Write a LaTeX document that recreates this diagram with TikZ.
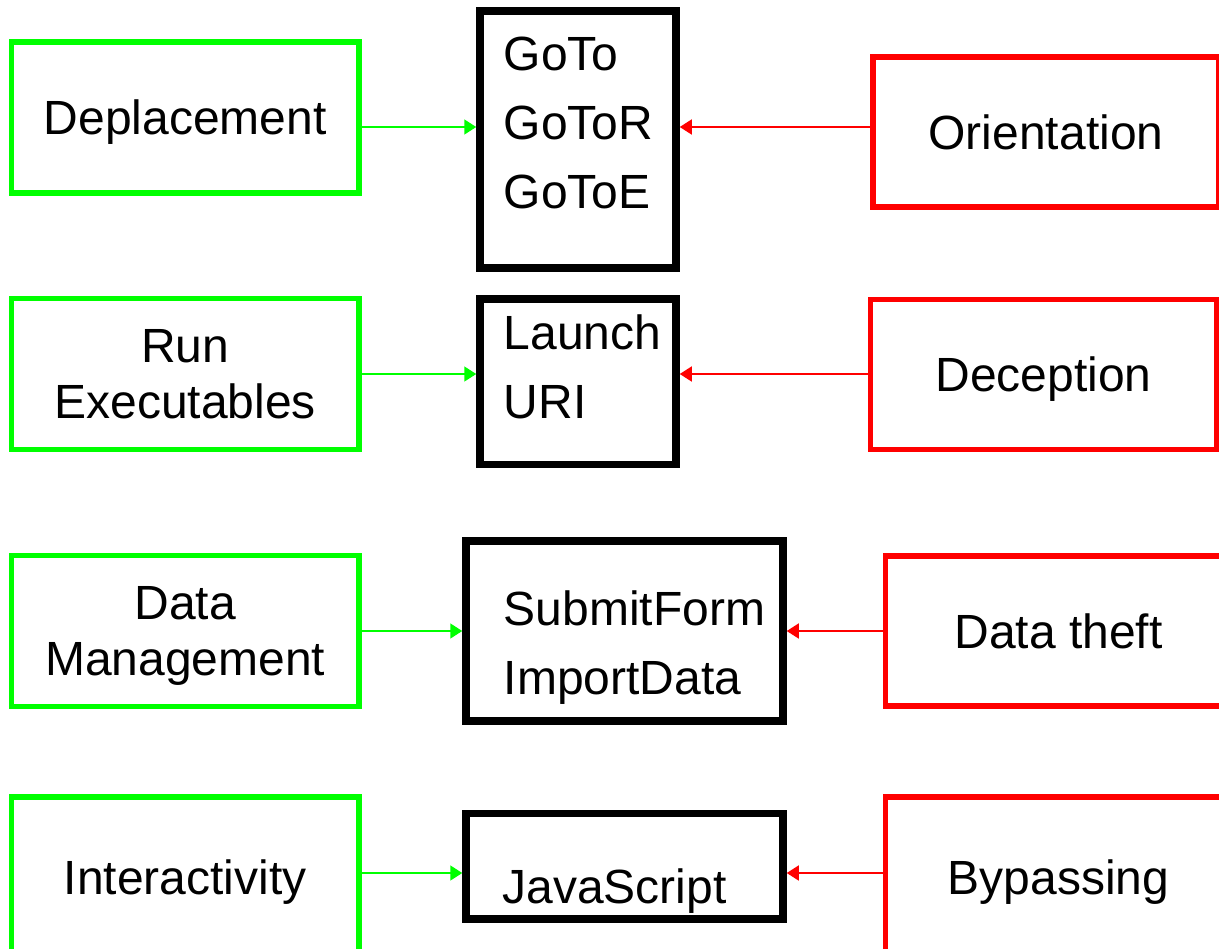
\documentclass[tikz,border=0pt]{standalone}
\usepackage{fontspec}
\setmainfont{Liberation Sans}
\usetikzlibrary{arrows.meta}

\begin{document}
\begin{tikzpicture}
	[
	x=0.5pt, y=-0.5pt, font=\fontsize{24}{28.3}\selectfont,
	>={Triangle[length=6pt, width=7.5pt]},
	%Voreinstellung für Kästen und Pfeile
	greenbox/.style={draw=green, line width=2.75pt, minimum width=173.75pt, minimum height=75.5pt, align=center, text depth=0pt, inner sep=0pt},
	redbox/.style={draw=red, line width=2.75pt, minimum width=173pt, minimum height=75pt, align=center, text depth=0pt, inner sep=0pt},
	actionbox/.style={draw=black, line width=3.75pt, inner sep=0pt},
	actionlist/.style={anchor=north west, align=left, inner sep=0pt, font=\fontsize{24}{34.5}\selectfont},
	garrow/.style={->, green, line width=0.75pt},
	rarrow/.style={->, red, line width=0.75pt}
	]

	%Rahmen
	\useasboundingbox (0,0) rectangle (1219,948);
	\clip (0,0) rectangle (1219,948);

	%Höhen der Pfeile
	\coordinate (z1) at (0,127);
	\coordinate (z2) at (0,374);
	\coordinate (z3) at (0,631);
	\coordinate (z4) at (0,873);

	%Grüne Kästen
	\node[greenbox] (deplacement) at (185.25,117.5) {Deplacement};
	\node[greenbox] (run) at (185.25,374) {Run\\Executables};
	\node[greenbox] (datamgmt) at (185.25,631) {Data\\Management};
	\node[greenbox, minimum height=80pt] (interact) at (185.25,877) {Interactivity};

	%Aktionen
	\node[actionbox, minimum width=98pt, minimum height=128.5pt] (goto) at (578,139.5) {};
	\node[actionlist] (gotolist) at (503.5,37) {GoTo\\GoToR\\GoToE};
	\node[actionbox, minimum width=98pt, minimum height=82.75pt] (launch) at (578,381.75) {};
	\node[actionlist] (launchlist) at (503.5,314) {Launch\\URI};
	\node[actionbox, minimum width=158.5pt, minimum height=90pt] (submit) at (624.5,631) {};
	\node[actionlist] (submitlist) at (503.5,590.5) {SubmitForm\\ImportData};
	\node[actionbox, minimum width=158.5pt, minimum height=52.75pt] (js) at (624.5,866.25) {};
	\node[actionlist] (jslist) at (502,868) {JavaScript};

	%Rote Kästen
	\node[redbox] (orient) at (1046,132) {Orientation};
	\node[redbox] (decept) at (1043.5,374.5) {Deception};
	\node[redbox] (theft) at (1058.5,631) {Data theft};
	\node[redbox, minimum height=80pt] (bypass) at (1058.5,877) {Bypassing};

	%Pfeile
	\draw[garrow] (deplacement.east |- z1) -- (goto.west |- z1);
	\draw[garrow] (run.east |- z2) -- (launch.west |- z2);
	\draw[garrow] (datamgmt.east |- z3) -- (submit.west |- z3);
	\draw[garrow] (interact.east |- z4) -- (js.west |- z4);

	\draw[rarrow] (orient.west |- z1) -- (goto.east |- z1);
	\draw[rarrow] (decept.west |- z2) -- (launch.east |- z2);
	\draw[rarrow] (theft.west |- z3) -- (submit.east |- z3);
	\draw[rarrow] (bypass.west |- z4) -- (js.east |- z4);
\end{tikzpicture}
\end{document}
